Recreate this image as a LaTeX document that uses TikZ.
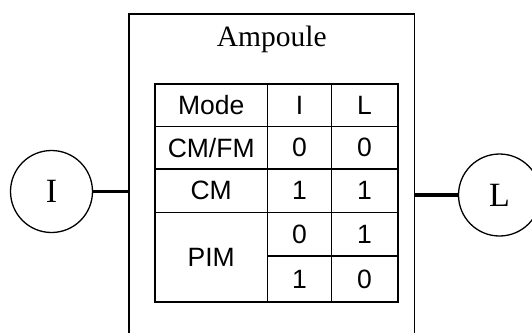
\documentclass[tikz,border=0pt]{standalone}
\usepackage{fontspec}
\setmainfont{Liberation Serif}
\newfontfamily\tabfont{Liberation Sans}
\begin{document}
\begin{tikzpicture}[x=1pt,y=-1pt,
  cell/.style={draw, line width=1.7pt, inner sep=0pt, font=\tabfont\fontsize{26.5}{26.5}\selectfont},
  port/.style={circle, draw, line width=1.3pt, minimum size=82pt, inner sep=0pt, font=\fontsize{34}{34}\selectfont},
  wire/.style={line width=3.5pt}]
\clip (0,0) rectangle (532,332);
\useasboundingbox (0,0) rectangle (532,332);
% outer box (open at the bottom edge)
\coordinate (bxbl) at (129,340);
\coordinate (bxtl) at (129,14);
\coordinate (bxtr) at (414.6,14);
\coordinate (bxbr) at (414.6,340);
\draw[line width=1.7pt] (bxbl) -- (bxtl) -- (bxtr) -- (bxbr);
\node[anchor=base, font=\fontsize{29.5}{29.5}\selectfont] (title) at (271.8,46) {Ampoule};
% table
\node[cell, minimum width=112.4pt, minimum height=42.5pt] (m) at (211.2,105.25) {Mode};
\node[cell, minimum width=64.1pt, minimum height=42.5pt] (hi) at (299.45,105.25) {I};
\node[cell, minimum width=66.2pt, minimum height=42.5pt] (hl) at (364.6,105.25) {L};
\node[cell, minimum width=112.4pt, minimum height=42.5pt] (a) at (211.2,147.75) {CM/FM};
\node[cell, minimum width=64.1pt, minimum height=42.5pt] (ai) at (299.45,147.75) {0};
\node[cell, minimum width=66.2pt, minimum height=42.5pt] (al) at (364.6,147.75) {0};
\node[cell, minimum width=112.4pt, minimum height=43.5pt] (b) at (211.2,190.75) {CM};
\node[cell, minimum width=64.1pt, minimum height=43.5pt] (bi) at (299.45,190.75) {1};
\node[cell, minimum width=66.2pt, minimum height=43.5pt] (bl) at (364.6,190.75) {1};
\node[cell, minimum width=112.4pt, minimum height=89.5pt] (c) at (211.2,257.25) {PIM};
\node[cell, minimum width=64.1pt, minimum height=43.5pt] (ci) at (299.45,234.25) {0};
\node[cell, minimum width=66.2pt, minimum height=43.5pt] (cl) at (364.6,234.25) {1};
\node[cell, minimum width=64.1pt, minimum height=46pt] (di) at (299.45,279) {1};
\node[cell, minimum width=66.2pt, minimum height=46pt] (dl) at (364.6,279) {0};
% ports
\node[port] (I) at (51.5,191.5) {I};
\node[port] (L) at (499.5,195) {L};
\coordinate (inL) at (129,191.5);
\coordinate (inR) at (414.6,195);
\draw[wire] (I.east) -- (inL);
\draw[wire] (inR) -- (L.west);
\end{tikzpicture}
\end{document}
